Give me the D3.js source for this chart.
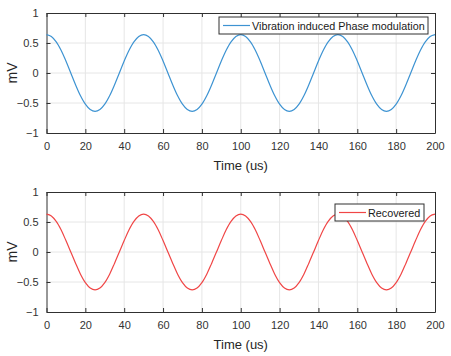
<!DOCTYPE html>
<html>
<head>
<meta charset="utf-8">
<script src="https://cdn.jsdelivr.net/npm/d3@7/dist/d3.min.js"></script>
<style>
  body { margin: 0; background: #fff; }
  text { font-family: "Liberation Sans", Arial, sans-serif; }
</style>
</head>
<body>
<div id="chart"></div>
<script>
// sample times in us, one point every 2.5 us
const timeUs = d3.range(0, 200.01, 2.5);

const vibration = [
  0.64, 0.61, 0.52, 0.38, 0.20, 0.00, -0.20, -0.38, -0.52, -0.61,
  -0.64, -0.61, -0.52, -0.38, -0.20, 0.00, 0.20, 0.38, 0.52, 0.61,
  0.64, 0.61, 0.52, 0.38, 0.20, 0.00, -0.20, -0.38, -0.52, -0.61,
  -0.64, -0.61, -0.52, -0.38, -0.20, 0.00, 0.20, 0.38, 0.52, 0.61,
  0.64, 0.61, 0.52, 0.38, 0.20, 0.00, -0.20, -0.38, -0.52, -0.61,
  -0.64, -0.61, -0.52, -0.38, -0.20, 0.00, 0.20, 0.38, 0.52, 0.61,
  0.64, 0.61, 0.52, 0.38, 0.20, 0.00, -0.20, -0.38, -0.52, -0.61,
  -0.64, -0.61, -0.52, -0.38, -0.20, 0.00, 0.20, 0.38, 0.52, 0.61,
  0.64
];

const recovered = [
  0.63, 0.60, 0.51, 0.37, 0.19, 0.00, -0.19, -0.37, -0.51, -0.60,
  -0.63, -0.60, -0.51, -0.37, -0.19, 0.00, 0.19, 0.37, 0.51, 0.60,
  0.63, 0.60, 0.51, 0.37, 0.19, 0.00, -0.19, -0.37, -0.51, -0.60,
  -0.63, -0.60, -0.51, -0.37, -0.19, 0.00, 0.19, 0.37, 0.51, 0.60,
  0.63, 0.60, 0.51, 0.37, 0.19, 0.00, -0.19, -0.37, -0.51, -0.60,
  -0.63, -0.60, -0.51, -0.37, -0.19, 0.00, 0.19, 0.37, 0.51, 0.60,
  0.63, 0.60, 0.51, 0.37, 0.19, 0.00, -0.19, -0.37, -0.51, -0.60,
  -0.63, -0.60, -0.51, -0.37, -0.19, 0.00, 0.19, 0.37, 0.51, 0.60,
  0.63
];

const xTicks = [0, 20, 40, 60, 80, 100, 120, 140, 160, 180, 200];
const yTicks = [-1, -0.5, 0, 0.5, 1];
const xLabel = 'Time (us)';
const yLabel = 'mV';

const width = 451, height = 356;
const axColor = '#303030';

const svg = d3.select('#chart').append('svg')
  .attr('width', width)
  .attr('height', height)
  .style('background', '#fff');

const x = d3.scaleLinear().domain([0, 200]).range([46.5, 435]);

function drawPanel(top, values, color, legendText, legend) {
  const y = d3.scaleLinear().domain([-1, 1]).range([top + 120, top]);
  const g = svg.append('g');

  // grid
  g.append('g').selectAll('line.gx')
    .data(xTicks.slice(1, -1)).enter().append('line')
    .attr('x1', d => x(d)).attr('x2', d => x(d))
    .attr('y1', y(-1)).attr('y2', y(1))
    .attr('stroke', '#e6e6e6').attr('stroke-width', 1);
  g.append('g').selectAll('line.gy')
    .data(yTicks.slice(1, -1)).enter().append('line')
    .attr('x1', x(0)).attr('x2', x(200))
    .attr('y1', d => y(d)).attr('y2', d => y(d))
    .attr('stroke', '#e6e6e6').attr('stroke-width', 1);

  // axes with inward ticks
  const fmt = d => d3.format('')(d);
  const xb = g.append('g').attr('transform', `translate(0,${y(-1)})`)
    .call(d3.axisBottom(x).tickValues(xTicks).tickSizeInner(-4).tickSizeOuter(0).tickPadding(9).tickFormat(fmt));
  const xt = g.append('g').attr('transform', `translate(0,${y(1)})`)
    .call(d3.axisTop(x).tickValues(xTicks).tickSizeInner(-4).tickSizeOuter(0).tickFormat(''));
  const yl = g.append('g').attr('transform', `translate(${x(0)},0)`)
    .call(d3.axisLeft(y).tickValues(yTicks).tickSizeInner(-4).tickSizeOuter(0).tickPadding(8).tickFormat(fmt));
  const yr = g.append('g').attr('transform', `translate(${x(200)},0)`)
    .call(d3.axisRight(y).tickValues(yTicks).tickSizeInner(-4).tickSizeOuter(0).tickFormat(''));

  [xb, xt, yl, yr].forEach(a => {
    a.select('.domain').attr('stroke', axColor).attr('stroke-width', 1);
    a.selectAll('.tick line').attr('stroke', axColor);
    a.selectAll('.tick text')
      .attr('fill', '#333')
      .style('font-size', '11px')
      .style('font-family', '"Liberation Sans", Arial, sans-serif');
  });

  // curve
  const line = d3.line()
    .x((d, i) => x(timeUs[i]))
    .y(d => y(d))
    .curve(d3.curveCatmullRom);
  g.append('path')
    .datum(values)
    .attr('fill', 'none')
    .attr('stroke', color)
    .attr('stroke-width', 1.2)
    .attr('d', line);

  // axis labels
  g.append('text')
    .attr('x', (x(0) + x(200)) / 2)
    .attr('y', y(-1) + 37)
    .attr('text-anchor', 'middle')
    .attr('fill', '#262626')
    .style('font-size', '13px')
    .text(xLabel);
  g.append('text')
    .attr('transform', `translate(17,${y(0)}) rotate(-90)`)
    .attr('text-anchor', 'middle')
    .attr('fill', '#262626')
    .style('font-size', '14px')
    .text(yLabel);

  // legend
  const lg = g.append('g').attr('transform', `translate(${legend.x},${legend.y})`);
  lg.append('rect')
    .attr('width', legend.w).attr('height', 17)
    .attr('fill', '#fff')
    .attr('stroke', axColor).attr('stroke-width', 1);
  lg.append('line')
    .attr('x1', 4).attr('x2', legend.lineEnd)
    .attr('y1', 8.5).attr('y2', 8.5)
    .attr('stroke', color).attr('stroke-width', 1.2);
  lg.append('text')
    .attr('x', legend.lineEnd + 2)
    .attr('y', 12.5)
    .attr('fill', '#1a1a1a')
    .style('font-size', '10.8px')
    .text(legendText);
}

drawPanel(13, vibration, '#3d93d2', 'Vibration induced Phase modulation',
  { x: 219, y: 17, w: 209, lineEnd: 31 });
drawPanel(192, recovered, '#f04646', 'Recovered',
  { x: 335, y: 204, w: 89, lineEnd: 31 });
</script>
</body>
</html>
